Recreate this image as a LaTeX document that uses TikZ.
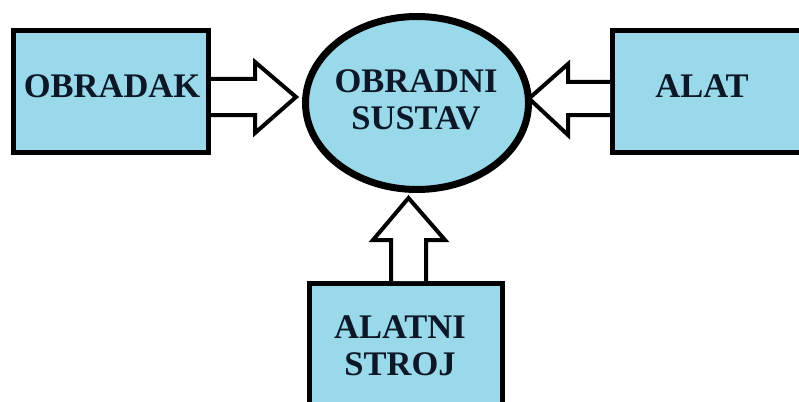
\documentclass[tikz,border=0pt]{standalone}
\usepackage{fontspec}
\setmainfont{Liberation Serif}
\usetikzlibrary{shapes.geometric,calc}
\definecolor{boxblue}{RGB}{153,217,234}
\definecolor{txt}{RGB}{12,24,40}
\tikzset{
  blk/.style={draw=black,line width=5pt,fill=boxblue,inner sep=0pt},
  lbl/.style={font=\fontsize{34.5}{37}\selectfont\bfseries,text=txt,inner sep=0pt,align=center},
  blockarrow/.style={draw=black,line width=4pt,fill=white,line join=miter}
}
\begin{document}
\begin{tikzpicture}[x=1pt,y=-1pt]
\useasboundingbox (0,0) rectangle (799,401);
\begin{scope}
\clip (0,0) rectangle (799,401);
% boxes
\node[blk,minimum width=195pt,minimum height=122pt] (ob) at (111,91.5) {};
\node[blk,minimum width=220pt,minimum height=122pt] (al) at (722.5,91.5) {};
\node[blk,minimum width=193pt,minimum height=150pt] (st) at (406,358.5) {};
\node[draw=black,line width=7pt,fill=boxblue,ellipse,minimum width=223pt,minimum height=173pt,inner sep=0pt] (sys) at (417,103) {};
% texts
\node[lbl] (tob) at (112,86) {OBRADAK};
\node[lbl] (tal) at (702,86) {ALAT};
\node[lbl] (tsys) at (416,100) {OBRADNI\\SUSTAV};
\node[lbl] (tst) at (400,346) {ALATNI\\STROJ};
% arrows
\filldraw[blockarrow] ($(ob.east)+(0,-12.5)$) -- ++(44,0) -- ++(0,-17) -- (296,97) -- (255,133) -- ++(0,-18) -- ($(ob.east)+(0,23.5)$);
\filldraw[blockarrow] ($(al.west)+(0,-9.5)$) -- (568,82) -- (568,64) -- (529,98.5) -- (568,135) -- (568,115) -- ($(al.west)+(0,23.5)$);
\filldraw[blockarrow] ($(st.north)+(-15,0)$) -- (391,240) -- (373,240) -- (408.5,198) -- (445,240) -- (426,240) -- ($(st.north)+(20,0)$);
\end{scope}
\end{tikzpicture}
\end{document}
